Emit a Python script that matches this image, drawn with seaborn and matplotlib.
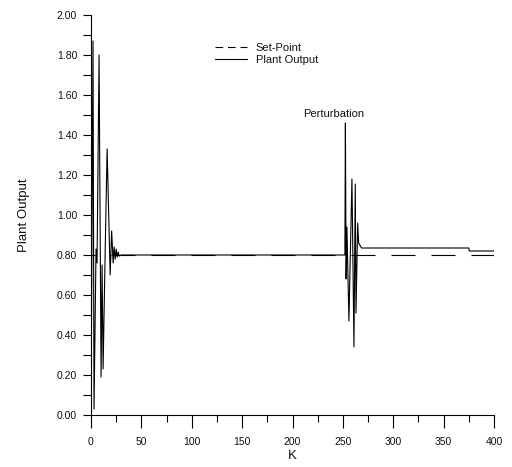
import matplotlib
matplotlib.use("Agg")
import matplotlib.pyplot as plt
import seaborn as sns
import pandas as pd
from matplotlib.lines import Line2D
from matplotlib.ticker import MultipleLocator, FormatStrFormatter

# ---- data ----
k_setpoint = [0, 400]
setpoint = [0.80, 0.80]

k_plant = [0, 2, 3, 5, 6, 8, 10, 11, 12, 14, 16, 19, 20.5, 22, 23, 24, 25,
           26, 27, 28, 30, 252, 252.5, 253.2, 254, 256, 259, 261, 262.3,
           263, 264.7, 265.7, 268.5, 375, 375.5, 400]
plant = [0.00, 1.87, 0.03, 0.83, 0.76, 1.80, 0.19, 0.75, 0.23, 0.80, 1.33,
         0.70, 0.92, 0.76, 0.84, 0.78, 0.83, 0.79, 0.815, 0.795, 0.80, 0.80,
         1.46, 0.68, 0.94, 0.47, 1.18, 0.34, 1.155, 0.51, 0.96, 0.86, 0.835,
         0.835, 0.82, 0.82]

x_ticks = [0, 50, 100, 150, 200, 250, 300, 350, 400]

sns.set_style("ticks")
plt.rcParams['font.family'] = ['Liberation Sans', 'DejaVu Sans']
plt.rcParams['lines.scale_dashes'] = False

df_sp = pd.DataFrame({"K": k_setpoint, "v": setpoint})
df_pl = pd.DataFrame({"K": k_plant, "v": plant})

fig = plt.figure(figsize=(5.12, 4.67), dpi=100)
ax = fig.add_axes([91/512, 1-415/467, 403/512, 400/467])

px = 72/100  # points per pixel
sns.lineplot(data=df_sp, x="K", y="v", ax=ax, color="black", linewidth=0.8,
             linestyle=(20*px, (24*px, 16*px)), estimator=None, sort=False)
sns.lineplot(data=df_pl, x="K", y="v", ax=ax, color="black", linewidth=0.8,
             estimator=None, sort=False)

ax.set_xlim(0, 400)
ax.set_ylim(0, 2.0)
ax.set_xticks(x_ticks)
ax.xaxis.set_minor_locator(MultipleLocator(25))
ax.yaxis.set_major_locator(MultipleLocator(0.2))
ax.yaxis.set_minor_locator(MultipleLocator(0.1))
ax.yaxis.set_major_formatter(FormatStrFormatter('%.2f'))
ax.tick_params(axis='x', which='major', length=9, width=0.8, labelsize=7.5,
               color='black', labelcolor='#111111', pad=7)
ax.tick_params(axis='x', which='minor', length=5, width=0.8, color='black')
ax.tick_params(axis='y', which='both', length=6, width=0.8, labelsize=7.5,
               color='black', labelcolor='#111111', pad=4)
for s in ['top', 'right']:
    ax.spines[s].set_visible(False)
for s in ['left', 'bottom']:
    ax.spines[s].set_linewidth(0.8)
    ax.spines[s].set_color('black')

ax.set_xlabel("K", fontsize=9.5, color='#111111', labelpad=2)
ax.set_ylabel("Plant Output", fontsize=9.5, color='#111111', labelpad=19)

ax.text(241, 1.49, "Perturbation", fontsize=8, ha='center',
        va='baseline', color='#111111')

handles = [Line2D([], [], color='black', lw=0.8, linestyle=(0, (5.5, 3.5))),
           Line2D([], [], color='black', lw=0.8)]
fig.legend(handles, ["Set-Point", "Plant Output"], loc='upper left',
           bbox_to_anchor=(209/512, 1-37/467), frameon=False, fontsize=8,
           handlelength=2.9, handletextpad=0.8, labelspacing=0.2,
           borderpad=0, labelcolor='#111111')

fig.savefig("out.png", dpi=100)
